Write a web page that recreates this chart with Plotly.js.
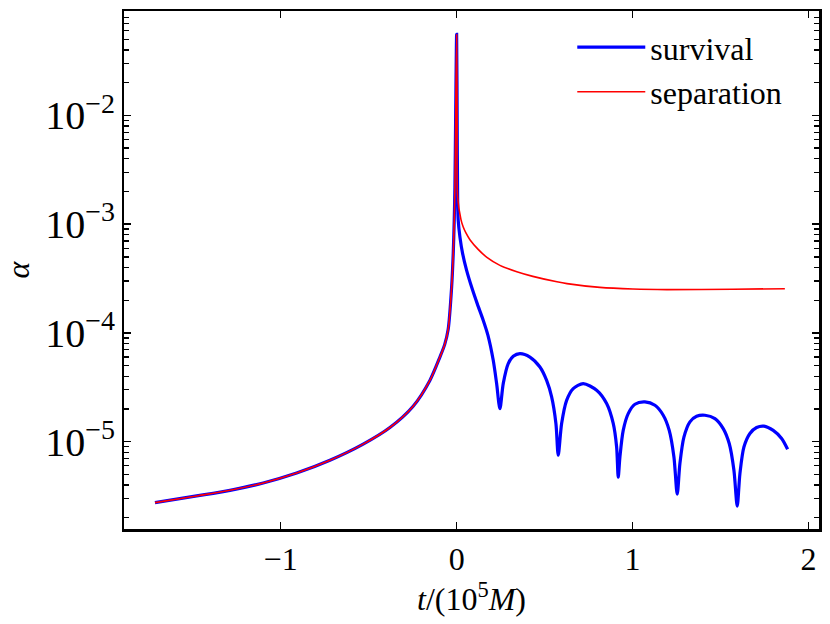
<!DOCTYPE html>
<html>
<head>
<meta charset="utf-8">
<script src="https://cdn.plot.ly/plotly-3.0.1.min.js"></script>
<style>
  html, body { margin: 0; padding: 0; background: #fff; }
  #chart { width: 830px; height: 624px; }
</style>
</head>
<body>
<div id="chart"></div>
<script>
// Time axis in units of 1e5 M, alpha

// inspiral part, shared by both curves
const tInspiral = [-1.714, -1.477, -1.288, -1.099, -0.909, -0.720, -0.531, -0.379,
    -0.247, -0.152, -0.095, -0.068, -0.048, -0.0284, -0.0193, -0.0136, -0.0097,
    -0.0057, 0, 0.003, 0.0057];
const alphaInspiral = [2.75e-6, 3.17e-6, 3.57e-6, 4.17e-6, 5.15e-6, 6.75e-6, 9.5e-6, 1.35e-5,
    2.12e-5, 3.66e-5, 6.0e-5, 7.8e-5, 1.08e-4, 2.64e-4, 5.36e-4, 1.08e-3, 2.19e-3,
    9.0e-3, 5.55e-2, 9.0e-3, 1.77e-3];

// after merger: survival
const tSurvival = [0.0091, 0.0188, 0.0341, 0.0568, 0.0852, 0.117, 0.151, 0.178, 0.208,
    0.2273, 0.2460, 0.2648, 0.2932, 0.3216, 0.3597, 0.4165, 0.4733, 0.5114, 0.5398, 0.5642,
    0.5773, 0.5966, 0.625, 0.6625, 0.7193, 0.7955, 0.8523, 0.8898, 0.9091,
    0.9182, 0.9278, 0.9466, 0.975, 1.0131, 1.0699, 1.1267, 1.1739, 1.208, 1.2347,
    1.2534, 1.2687, 1.2915, 1.3256, 1.3636, 1.4108, 1.4676, 1.5148, 1.5489, 1.5756,
    1.5943, 1.6097, 1.6324, 1.6665, 1.7045, 1.746, 1.7989, 1.8466, 1.8807];
const alphaSurvival = [1.08e-3, 7.6e-4, 5.36e-4, 3.76e-4, 2.64e-4, 1.86e-4, 1.31e-4, 9.5e-5, 5.6e-5,
    3.42e-5, 2.01e-5, 3.42e-5, 5.22e-5, 6.10e-5, 6.46e-5, 6.0e-5, 4.86e-5, 3.66e-5, 2.58e-5, 1.47e-5,
    7.5e-6, 1.47e-5, 2.40e-5, 3.08e-5, 3.42e-5, 2.97e-5, 2.24e-5, 1.47e-5, 8.93e-6,
    4.71e-6, 7.23e-6, 1.27e-5, 1.81e-5, 2.21e-5, 2.32e-5, 2.16e-5, 1.75e-5, 1.27e-5, 7.23e-6,
    3.29e-6, 6.30e-6, 1.10e-5, 1.52e-5, 1.71e-5, 1.75e-5, 1.63e-5, 1.32e-5, 9.61e-6, 5.46e-6,
    2.56e-6, 5.09e-6, 8.93e-6, 1.19e-5, 1.35e-5, 1.39e-5, 1.27e-5, 1.07e-5, 8.51e-6];

// after merger: separation
const tSeparation = [0.0244, 0.0375, 0.0528, 0.0756, 0.121, 0.172, 0.246, 0.342, 0.433, 0.570,
    0.627, 0.814, 1.002, 1.195, 1.570, 1.865];
const alphaSeparation = [1.107e-3, 9.4e-4, 8.3e-4, 7.2e-4, 5.9e-4, 4.95e-4, 4.18e-4, 3.65e-4, 3.31e-4, 2.95e-4,
    2.84e-4, 2.62e-4, 2.53e-4, 2.50e-4, 2.52e-4, 2.55e-4];

const seriesNames = ['survival', 'separation'];

const FONT = 'Liberation Serif, DejaVu Serif, serif';

function frameAxis(extra) {
    return Object.assign({
        ticks: 'inside',
        ticklen: 7,
        tickwidth: 1.6,
        tickcolor: '#000',
        showline: true,
        linewidth: 2.5,
        linecolor: '#000',
        mirror: 'ticks',
        showgrid: false,
        zeroline: false,
        tickfont: { family: FONT, size: 32, color: '#000' }
    }, extra);
}

const traces = [
    {
        x: tInspiral.concat(tSurvival),
        y: alphaInspiral.concat(alphaSurvival),
        name: seriesNames[0],
        type: 'scatter',
        mode: 'lines',
        line: { color: '#0000ff', width: 3.2, shape: 'spline', smoothing: 0.8 }
    },
    {
        x: tInspiral.concat(tSeparation),
        y: alphaInspiral.concat(alphaSeparation),
        name: seriesNames[1],
        type: 'scatter',
        mode: 'lines',
        line: { color: '#ff0000', width: 1.6, shape: 'spline', smoothing: 0.8 }
    }
];

const layout = {
    width: 830,
    height: 624,
    margin: { l: 124, r: 11, t: 11, b: 95 },
    paper_bgcolor: '#fff',
    plot_bgcolor: '#fff',
    font: { family: FONT, size: 32, color: '#000' },
    showlegend: true,
    legend: {
        x: 0.645,
        y: 0.983,
        xanchor: 'left',
        yanchor: 'top',
        bgcolor: 'rgba(0,0,0,0)',
        borderwidth: 0,
        itemwidth: 68,
        font: { family: FONT, size: 32, color: '#000' }
    },
    xaxis: frameAxis({
        range: [-1.890, 2.059],
        tick0: 0,
        dtick: 1,
        title: { text: '<i>t</i>/(10<sup>5</sup><i>M</i>)', font: { family: FONT, size: 32 }, standoff: 3 }
    }),
    yaxis: frameAxis({
        type: 'log',
        range: [-5.803, -1.04],
        dtick: 1,
        exponentformat: 'power',
        minor: { ticks: 'inside', ticklen: 5, tickwidth: 1.3, tickcolor: '#000', dtick: 'D1' },
        title: { text: '<i>α</i>', font: { family: FONT, size: 32 }, standoff: 12 }
    })
};

try {
    Plotly.newPlot('chart', traces, layout, { displayModeBar: false, staticPlot: true });
} catch (err) {
    console.error('Failed to render chart', err);
}
</script>
</body>
</html>
